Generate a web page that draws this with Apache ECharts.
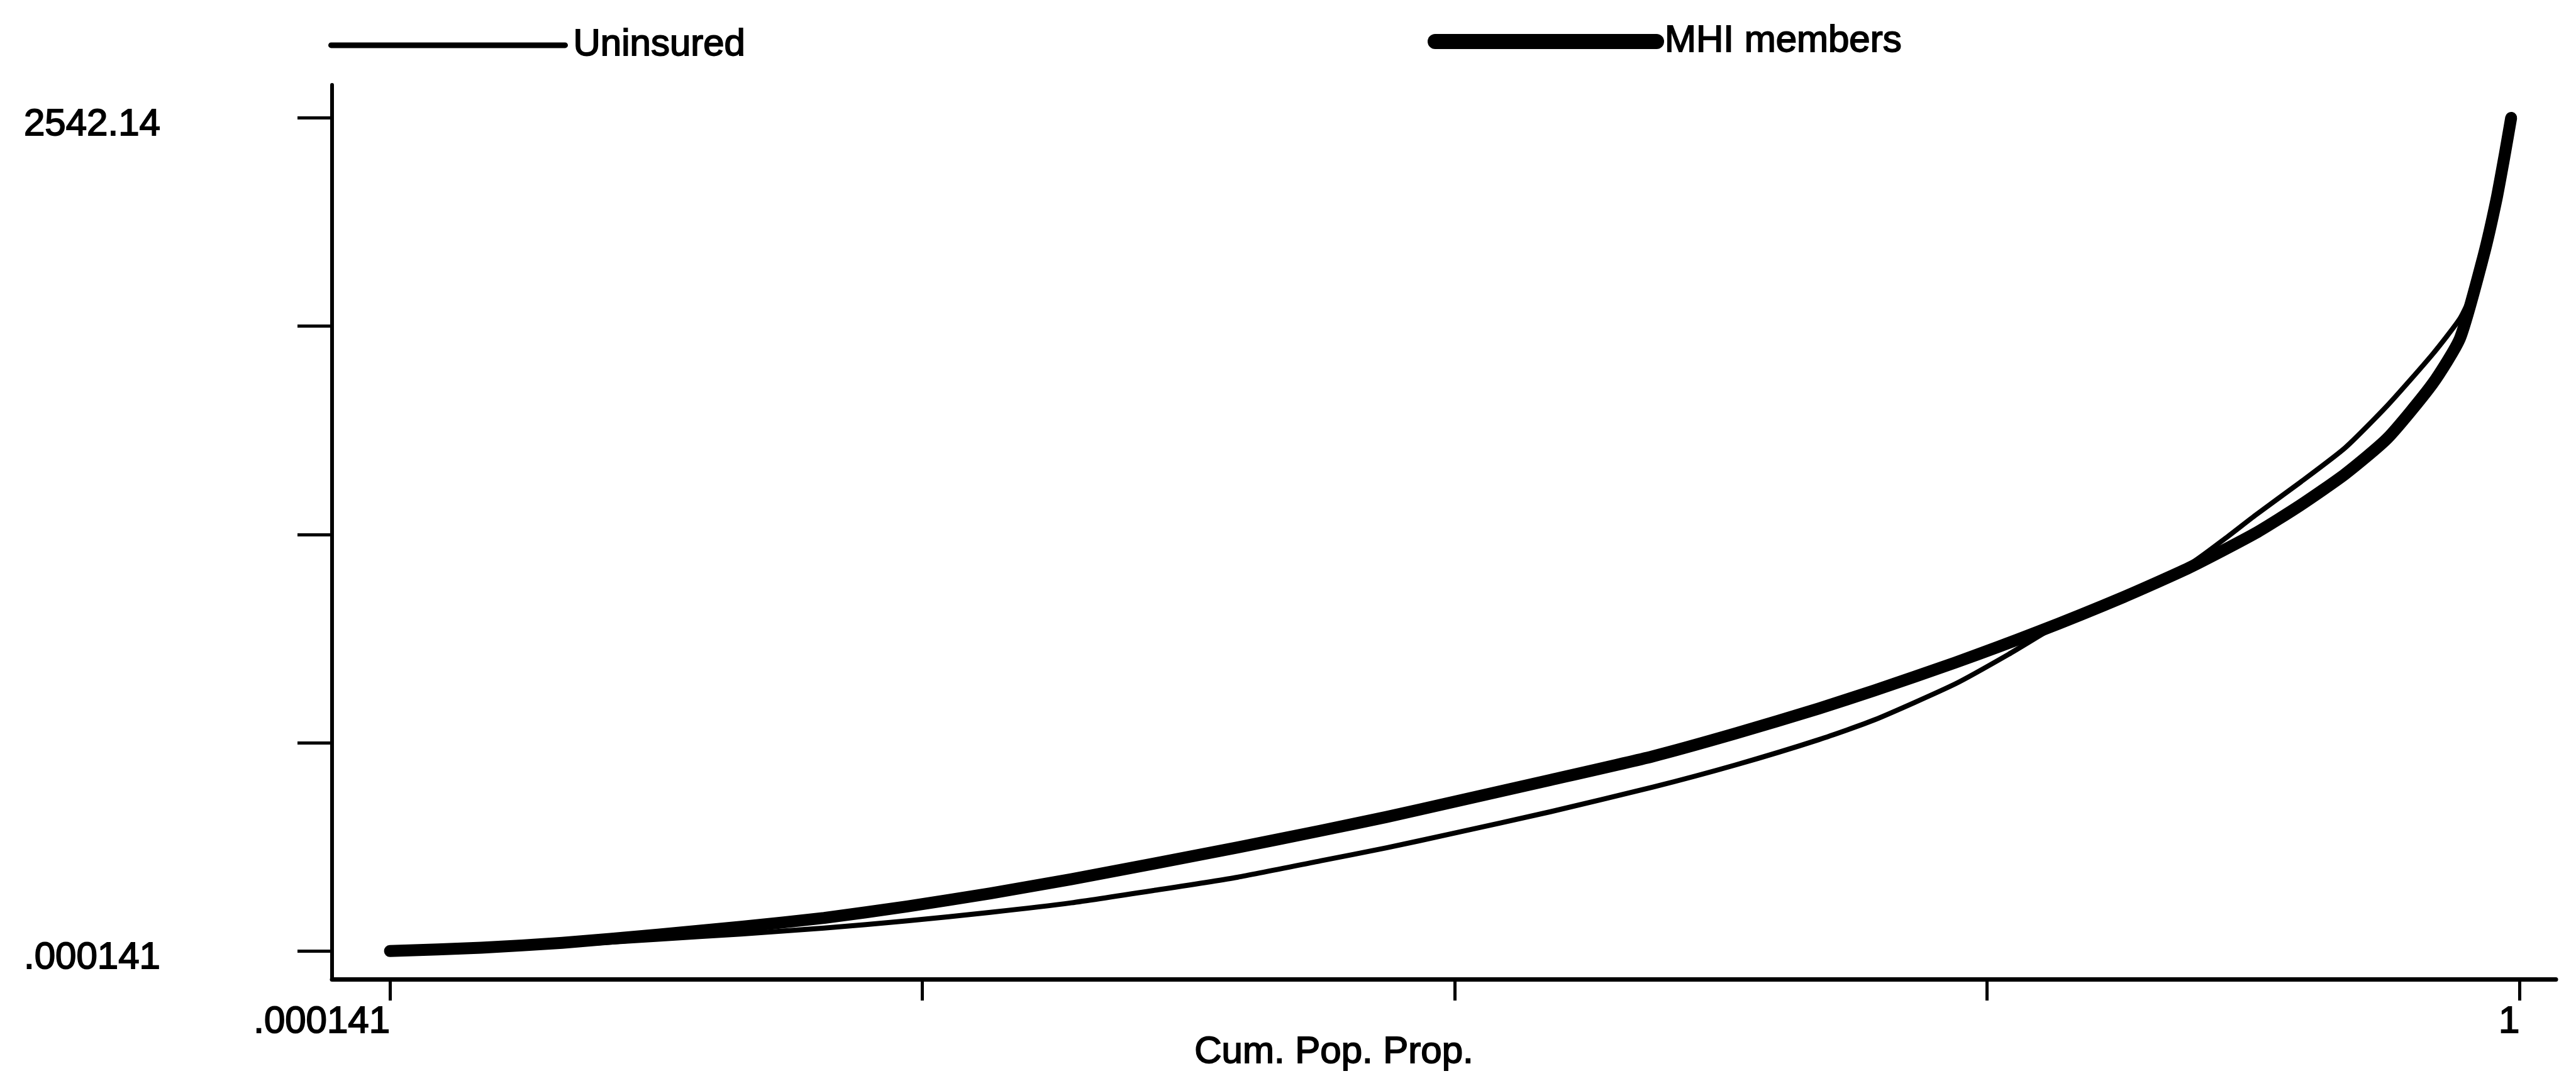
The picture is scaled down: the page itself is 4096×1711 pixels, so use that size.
<!DOCTYPE html>
<html>
<head>
<meta charset="utf-8">
<title>Cum. Pop. Prop.</title>
<script src="https://cdn.jsdelivr.net/npm/echarts@6/dist/echarts.min.js"></script>
<style>
  html, body { margin: 0; padding: 0; background: #fff; }
  #chart { width: 4096px; height: 1711px; }
</style>
</head>
<body>
<div id="chart"></div>
<script>
// Cumulative population proportion (x) against expenditure (y)
const uninsuredP = [0.000141, 0.043, 0.081, 0.126, 0.165, 0.204, 0.243, 0.282, 0.320, 0.359, 0.398, 0.437, 0.468, 0.498, 0.545, 0.593, 0.632, 0.671, 0.697, 0.735, 0.760, 0.790, 0.814, 0.845, 0.862, 0.876, 0.897, 0.918, 0.938, 0.959, 0.972, 0.978];
const uninsuredV = [0.000141, 7, 18, 36, 52, 70, 92, 118, 147, 185, 225, 275, 315, 357, 425, 500, 568, 645, 705, 815, 905, 1020, 1080, 1180, 1260, 1330, 1430, 1535, 1665, 1820, 1930, 2010];

const mhiP = [0.000141, 0.043, 0.081, 0.126, 0.165, 0.204, 0.243, 0.282, 0.320, 0.359, 0.398, 0.437, 0.468, 0.498, 0.545, 0.593, 0.632, 0.671, 0.697, 0.735, 0.773, 0.814, 0.845, 0.876, 0.897, 0.918, 0.938, 0.959, 0.972, 0.983, 0.989, 0.993, 0.996];
const mhiV = [0.000141, 10, 25, 50, 74, 101, 136, 176, 219, 267, 316, 367, 409, 453, 522, 594, 664, 740, 795, 880, 972, 1080, 1170, 1275, 1360, 1455, 1565, 1730, 1870, 2120, 2290, 2430, 2542.14];

const seriesNames = ['Uninsured', 'MHI members'];

// Axis ticks and the labelled ends
const xTickValues = [0.000141, 0.25, 0.5, 0.75, 1];
const xLabelValues = [0.000141, 1];
const xLabelText = ['.000141', '1'];
const yTickValues = [0.000141, 635.535, 1271.07, 1906.605, 2542.14];
const yLabelValues = [0.000141, 2542.14];
const yLabelText = ['.000141', '2542.14'];
const xTitle = 'Cum. Pop. Prop.';

const FONT = "'Liberation Sans', Arial, Helvetica, sans-serif";
const FS = 60;
const textInk = { color: '#000', fontFamily: FONT, fontSize: FS, textBorderColor: '#000', textBorderWidth: 1.8 };

function pairs(px, vs) { return px.map((p, i) => [p, vs[i]]); }
function labelFor(values, texts, wrap) {
  return function (v) {
    let best = 0;
    for (let i = 1; i < values.length; i++) {
      if (Math.abs(values[i] - v) < Math.abs(values[best] - v)) best = i;
    }
    return wrap ? '{t|' + texts[best] + '}' : texts[best];
  };
}

const chart = echarts.init(document.getElementById('chart'), null, { renderer: 'canvas' });

chart.setOption({
  animation: false,
  backgroundColor: '#fff',
  legend: [
    {
      data: [seriesNames[0]],
      left: 517, top: 36,
      itemWidth: 372, itemHeight: 30,
      itemStyle: { opacity: 0 },
      lineStyle: { width: 9, color: '#000' },
      textStyle: Object.assign({ padding: [0, 0, 0, 8] }, textInk),
      selectedMode: false
    },
    {
      data: [seriesNames[1]],
      left: 2265, top: 30,
      itemWidth: 352, itemHeight: 30,
      itemStyle: { opacity: 0 },
      lineStyle: { width: 24, color: '#000' },
      textStyle: Object.assign({ padding: [0, 0, 0, 8] }, textInk),
      selectedMode: false
    }
  ],
  grid: { left: 528, right: 32, top: 135, bottom: 154, containLabel: false, outerBoundsMode: 'none' },
  xAxis: {
    type: 'value',
    min: -0.02705,
    max: 1.017,
    name: xTitle,
    nameLocation: 'middle',
    nameGap: 86,
    nameMoveOverlap: false,
    nameTextStyle: Object.assign({ padding: [0, 350, 0, 0] }, textInk),
    axisLine: { show: true, onZero: false, lineStyle: { color: '#000', width: 7 } },
    axisTick: { show: true, length: 34, lineStyle: { color: '#000', width: 5 }, customValues: xTickValues },
    axisLabel: Object.assign({
      show: true, customValues: xLabelValues, formatter: labelFor(xLabelValues, xLabelText, false),
      align: 'right', margin: 38
    }, textInk),
    splitLine: { show: false }
  },
  yAxis: {
    type: 'value',
    min: -85.9,
    max: 2642.7,
    axisLine: { show: true, onZero: false, lineStyle: { color: '#000', width: 6 } },
    axisTick: { show: true, length: 55, lineStyle: { color: '#000', width: 5 }, customValues: yTickValues },
    axisLabel: Object.assign({
      show: true, customValues: yLabelValues, formatter: labelFor(yLabelValues, yLabelText, true),
      align: 'left', margin: 490,
      rich: { t: Object.assign({ padding: [22, 0, 0, 0] }, textInk) }
    }, textInk),
    splitLine: { show: false }
  },
  series: [
    {
      name: seriesNames[0],
      type: 'line',
      data: pairs(uninsuredP, uninsuredV),
      symbol: 'none',
      smooth: 0.2,
      lineStyle: { color: '#000', width: 8, cap: 'round', join: 'round' },
      itemStyle: { color: '#000' },
      z: 3
    },
    {
      name: seriesNames[1],
      type: 'line',
      data: pairs(mhiP, mhiV),
      symbol: 'none',
      smooth: 0.2,
      lineStyle: { color: '#000', width: 19, cap: 'round', join: 'round' },
      itemStyle: { color: '#000' },
      z: 2
    }
  ]
});
</script>
</body>
</html>
